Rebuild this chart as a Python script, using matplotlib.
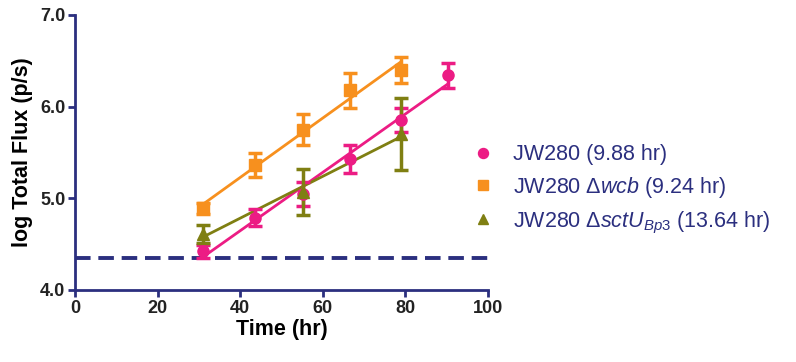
import matplotlib.pyplot as plt
import numpy as np

plt.rcParams['font.family'] = ['Liberation Sans', 'DejaVu Sans']
plt.rcParams['mathtext.fontset'] = 'custom'
plt.rcParams['mathtext.rm'] = 'Liberation Sans'
plt.rcParams['mathtext.it'] = 'Liberation Sans:italic'

navy = '#2b2f7f'

# JW280
wt_t = [31.1, 43.6, 55.2, 66.6, 78.8, 90.3]
wt_y = [4.42, 4.79, 5.05, 5.43, 5.85, 6.34]
wt_err = [0.07, 0.09, 0.13, 0.15, 0.13, 0.14]

# JW280 delta wcb
wcb_t = [31.1, 43.6, 55.2, 66.6, 78.8]
wcb_y = [4.89, 5.36, 5.75, 6.18, 6.40]
wcb_err = [0.06, 0.13, 0.17, 0.19, 0.14]

# JW280 delta sctU_Bp3
sct_t = [31.1, 55.2, 78.8]
sct_y = [4.61, 5.07, 5.70]
sct_err = [0.10, 0.25, 0.39]

limit = 4.35

labels = ['JW280 (9.88 hr)',
          r'JW280 Δ$\mathit{wcb}$ (9.24 hr)',
          r'JW280 Δ$\mathit{sctU}_{\mathit{Bp3}}$ (13.64 hr)']
colors = ['#ec1c84', '#f7901e', '#7f7f12']
markers = ['o', 's', '^']


def plot():
    fig = plt.figure(figsize=(7.96, 3.62), dpi=100)
    ax = fig.add_axes([0.0942, 0.199, 0.519, 0.7596])

    ax.axhline(limit, color=navy, lw=2.8, ls=(0, (4, 2)), zorder=1)

    series = [(wt_t, wt_y, wt_err), (wcb_t, wcb_y, wcb_err), (sct_t, sct_y, sct_err)]
    handles = []
    for (t, y, e), c, m in zip(series, colors, markers):
        t = np.array(t)
        k, b = np.polyfit(t, y, 1)
        ax.plot([t[0], t[-1]], [k * t[0] + b, k * t[-1] + b], color=c, lw=2, zorder=3)
        ax.errorbar(t, y, yerr=e, fmt='none', ecolor=c, elinewidth=2.5,
                    capsize=5, capthick=2.5, zorder=4)
        h, = ax.plot(t, y, ls='none', marker=m, ms=8, color=c, zorder=5)
        handles.append(h)

    ax.set_xlim(0, 100)
    ax.set_ylim(4.0, 7.0)
    ax.set_xticks([0, 20, 40, 60, 80, 100])
    ax.set_yticks([4.0, 5.0, 6.0, 7.0])
    ax.set_yticklabels(['4.0', '5.0', '6.0', '7.0'])
    for s in ['top', 'right']:
        ax.spines[s].set_visible(False)
    for s in ['left', 'bottom']:
        ax.spines[s].set_color(navy)
        ax.spines[s].set_linewidth(2)
    ax.tick_params(colors=navy, width=2, length=5, labelcolor='#222222',
                   labelsize=13, pad=2)
    for lab in ax.get_xticklabels() + ax.get_yticklabels():
        lab.set_fontweight('bold')
    ax.set_xlabel('Time (hr)', fontsize=15.5, fontweight='bold', labelpad=2)
    ax.set_ylabel('log Total Flux (p/s)', fontsize=15.5, fontweight='bold', labelpad=5)

    ax.legend(handles, labels, loc='center left', bbox_to_anchor=(0.915, 0.364),
              frameon=False, fontsize=15.5, labelcolor=navy, handlelength=1,
              handletextpad=0.9, labelspacing=0.45, markerscale=0.9)

    fig.savefig('out.png', dpi=100)


if __name__ == "__main__":
    plot()
